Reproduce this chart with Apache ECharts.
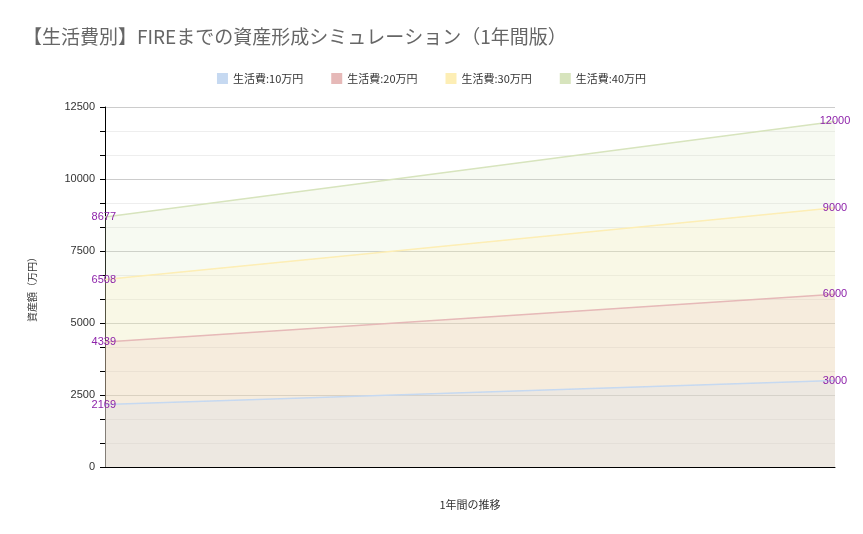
<!DOCTYPE html><html><head><meta charset="utf-8">
<script src="https://cdn.jsdelivr.net/npm/echarts@6/dist/echarts.min.js"></script>
<style>body{margin:0}#c{width:863px;height:534px}</style></head><body><div id="c"></div>
<script>
const categories=['開始','1年後'];
const seriesNames=['生活費:10万円','生活費:20万円','生活費:30万円','生活費:40万円'];
const startValues=[2169,4339,6508,8677];
const endValues=[3000,6000,9000,12000];
const colors=['#c6d9f1','#e6b9b8','#fdeeb5','#d7e4bd'];
const chart=echarts.init(document.getElementById('c'));
const font='"Noto Sans CJK JP",sans-serif';
chart.setOption({
 animation:false,
 title:{text:'【生活費別】FIREまでの資産形成シミュレーション（1年間版）',left:18,top:22,textStyle:{color:'#666',fontSize:19,fontWeight:'normal',fontFamily:font}},
 legend:{top:68,left:'center',itemWidth:11,itemHeight:11,icon:'rect',itemGap:28,textStyle:{fontSize:11,color:'#333',fontFamily:font}},
 grid:{left:105,right:28,top:107,bottom:67},
 xAxis:{type:'category',boundaryGap:false,data:categories,name:'1年間の推移',nameLocation:'middle',nameGap:32,nameTextStyle:{fontSize:11,color:'#333',fontFamily:font},axisLabel:{show:false},axisTick:{show:false},axisLine:{lineStyle:{color:'#000'}}},
 yAxis:{type:'value',min:0,max:12500,interval:2500,name:'資産額（万円）',nameLocation:'middle',nameGap:68,nameTextStyle:{fontSize:10,color:'#333',fontFamily:font},
  axisLine:{show:true,lineStyle:{color:'#000'}},axisTick:{show:true,length:5,lineStyle:{color:'#000'}},
  minorTick:{show:true,splitNumber:3,length:5,lineStyle:{color:'#000'}},
  minorSplitLine:{show:true,lineStyle:{color:'#eee'}},splitLine:{lineStyle:{color:'#ccc'}},
  axisLabel:{color:'#333',fontSize:11,margin:10,formatter:v=>String(v)}},
 series:seriesNames.map((n,i)=>({name:n,type:'line',data:[
   {value:startValues[i],label:{position:'left',offset:[16,0]}},
   {value:endValues[i],label:{position:'inside'}}],
  symbol:'circle',symbolSize:0.01,showSymbol:true,color:colors[i],lineStyle:{width:1.5,color:colors[i]},areaStyle:{color:colors[i],opacity:0.2},
  label:{show:true,color:'#8e24aa',fontSize:11,formatter:p=>String(p.value)},z:10-i}))
});
</script></body></html>
